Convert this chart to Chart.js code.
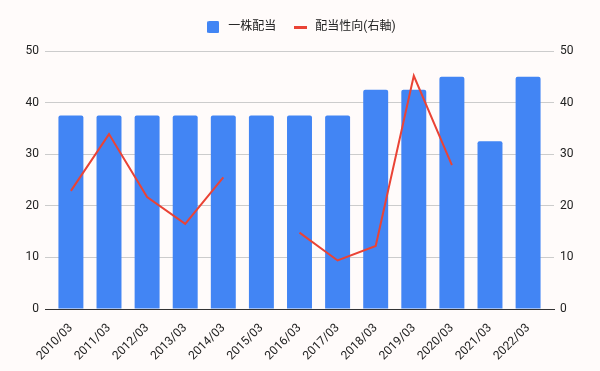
<!DOCTYPE html>
<html>
<head>
<meta charset="utf-8">
<script src="https://cdn.jsdelivr.net/npm/chart.js@4/dist/chart.umd.min.js"></script>
<style>
  html, body { margin: 0; padding: 0; background: #fffbfa; }
  #wrap { width: 600px; height: 371px; }
</style>
</head>
<body>
<div id="wrap"><canvas id="chart"></canvas></div>
<script>
var years = ['2010/03', '2011/03', '2012/03', '2013/03', '2014/03', '2015/03', '2016/03',
  '2017/03', '2018/03', '2019/03', '2020/03', '2021/03', '2022/03'];
var dividend = [37.5, 37.5, 37.5, 37.5, 37.5, 37.5, 37.5, 37.5, 42.5, 42.5, 45, 32.5, 45];
var payoutRatio = [22.9, 33.9, 21.7, 16.5, 25.5, null, 14.8, 9.4, 12.2, 45.2, 27.9, null, null];
var yTicks = [0, 10, 20, 30, 40, 50];

Chart.defaults.font.family = 'Roboto, "Noto Sans CJK JP", sans-serif';
Chart.defaults.color = '#222';

// small legend markers
function marker(w, h, color, r) {
  var c = document.createElement('canvas');
  c.width = w; c.height = h;
  var g = c.getContext('2d');
  g.fillStyle = color;
  g.beginPath();
  g.roundRect(0, 0, w, h, r);
  g.fill();
  return c;
}
var barMarker = marker(12, 12, '#4285f4', 1.5);
var lineMarker = marker(13, 3, '#ea4335', 0);

function fixedTicks(scale) {
  scale.ticks = yTicks.map(function(v) { return { value: v }; });
}

// extra room under the legend
var legendGap = {
  id: 'legendGap',
  beforeLayout: function(chart) {
    var legend = chart.legend;
    if (!legend || legend._gapDone) return;
    var fit = legend.fit;
    legend.fit = function() {
      fit.call(this);
      this.height += 8;
    };
    legend._gapDone = true;
  }
};

new Chart(document.getElementById('chart'), {
  type: 'bar',
  data: {
    labels: years,
    datasets: [{
      type: 'line',
      label: '配当性向(右軸)',
      data: payoutRatio,
      yAxisID: 'y1',
      borderColor: '#ea4335',
      backgroundColor: '#ea4335',
      borderWidth: 2,
      pointRadius: 0,
      pointStyle: lineMarker,
      spanGaps: false,
      tension: 0,
      order: 0
    }, {
      label: '一株配当',
      data: dividend,
      yAxisID: 'y',
      backgroundColor: '#4285f4',
      borderRadius: { topLeft: 2, topRight: 2 },
      borderSkipped: 'bottom',
      barPercentage: 0.655,
      categoryPercentage: 1,
      pointStyle: barMarker,
      order: 1
    }]
  },
  plugins: [legendGap],
  options: {
    responsive: true,
    maintainAspectRatio: false,
    animation: false,
    layout: { padding: { left: 0, right: 0, top: 6, bottom: 0 } },
    plugins: {
      legend: {
        position: 'top',
        reverse: true,
        labels: {
          usePointStyle: true,
          pointStyleWidth: 18,
          boxHeight: 12,
          font: { size: 12 },
          color: '#222',
          padding: 15
        }
      },
      tooltip: { enabled: false }
    },
    scales: {
      x: {
        grid: { display: false },
        border: { color: '#333', width: 1 },
        ticks: { minRotation: 45, maxRotation: 45, font: { size: 12 }, color: '#222', padding: 4 },
        afterFit: function(scale) { scale.height = 62; },
        // gridlines run a little past the first and last bar
        afterUpdate: function(scale) {
          scale._startValue = -0.68;
          scale._valueRange = years.length + 0.36;
        }
      },
      y: {
        position: 'left',
        min: 0,
        max: 50,
        afterBuildTicks: fixedTicks,
        afterFit: function(scale) { scale.width = 45; },
        grid: { color: '#cccccc', drawTicks: false },
        border: { display: false },
        ticks: { font: { size: 12 }, color: '#222', padding: 6 }
      },
      y1: {
        position: 'right',
        min: 0,
        max: 50,
        afterBuildTicks: fixedTicks,
        afterFit: function(scale) { scale.width = 46; },
        grid: { display: false, drawTicks: false },
        border: { display: false },
        ticks: { font: { size: 12 }, color: '#222', padding: 6 }
      }
    }
  }
});
</script>
</body>
</html>
